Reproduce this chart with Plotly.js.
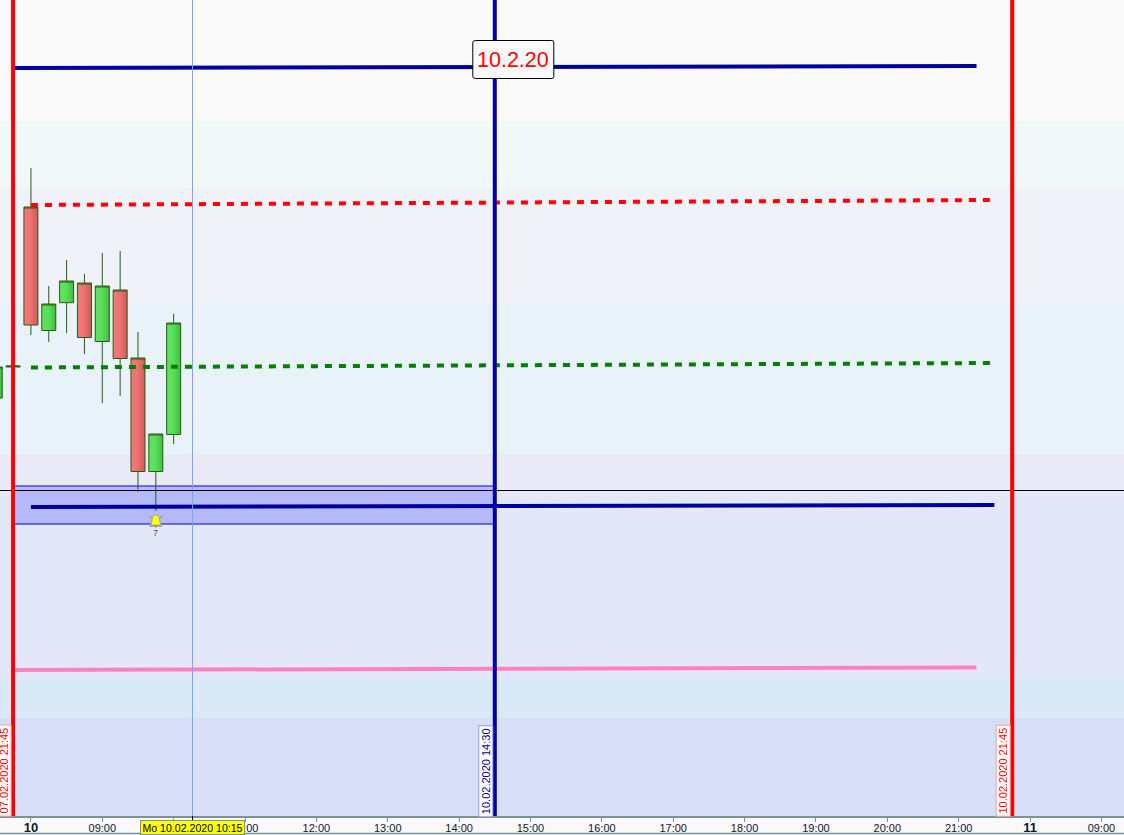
<!DOCTYPE html>
<html>
<head>
<meta charset="utf-8">
<script src="https://cdn.plot.ly/plotly-3.0.1.min.js"></script>
<style>html,body{margin:0;padding:0;background:#f9f9f9;overflow:hidden}#chart{width:1124px;height:835px}</style>
</head>
<body>
<div id="chart"></div>
<script>
// Price scale has no visible labels in the reference: values are height above the time axis.
const candleTimes = ['2020-02-07 21:30','2020-02-07 21:45','2020-02-10 08:00','2020-02-10 08:15','2020-02-10 08:30','2020-02-10 08:45','2020-02-10 09:00','2020-02-10 09:15','2020-02-10 09:30','2020-02-10 09:45','2020-02-10 10:00'];
const candleOpen  = [418,449,609,485.5,513.3,533,474.5,526,458,344.5,381.5];
const candleHigh  = [449.5,450.5,648,530,556,542,563,565,484,382,502];
const candleLow   = [418,448,481,474,483,462,413,420,324,305,372];
const candleClose = [449,450,491,512,535,478.5,530,457.5,344.5,382,493];

const bandTops    = [816,695,628,512,362,326,138,98];
const bandBottoms = [695,628,512,362,326,138,98,0];
const bandColors  = ['#f9f9f9','#f0f9f7','#f0f2fa','#e9f1f9','#e9e9f7','#e2e8f7','#d9e9f7','#d7dff7'];

const levelStart = '2020-02-07 21:46', levelStartB = '2020-02-10 08:00';
const topLevel = {x:[levelStart,'2020-02-10 21:15'], y:[748,750]};
const redLevel = {x:[levelStartB,'2020-02-10 21:28'], y:[611,616]};
const greenLevel = {x:[levelStartB,'2020-02-10 21:28'], y:[448.5,453]};
const navyLevel = {x:[levelStartB,'2020-02-10 21:30'], y:[309,311]};
const pinkLevel = {x:[levelStart,'2020-02-10 21:15'], y:[146,148.5]};

const axisTicks = ['2020-02-10 08:00','2020-02-10 09:00','2020-02-10 10:00','2020-02-10 11:00','2020-02-10 12:00','2020-02-10 13:00','2020-02-10 14:00','2020-02-10 15:00','2020-02-10 16:00','2020-02-10 17:00','2020-02-10 18:00','2020-02-10 19:00','2020-02-10 20:00','2020-02-10 21:00','2020-02-11 08:00','2020-02-11 09:00'];
const dayLabel = d => '<span style="font-size:13px"><b>'+d+'</b></span>';
const axisLabels = [dayLabel('10'),'09:00','10:00','11:00','12:00','13:00','14:00','15:00','16:00','17:00','18:00','19:00','20:00','21:00',dayLabel('11'),'09:00'];

const sessionLeft = '2020-02-07 21:45', sessionRight = '2020-02-10 21:45', markerTime = '2020-02-10 14:30', cursorTime = '2020-02-10 10:15:50', alertTime = '2020-02-10 09:45';
const zoneTop = 330, zoneBottom = 292, crossY = 325.5, alertY = 295;
const FONT = '"Liberation Sans", Arial, sans-serif';
const BOX_MS = 14/71.4*3600000;   // candle body width

const lineTrace = (d, color, dash) => ({type:'scatter',mode:'lines',x:d.x,y:d.y,hoverinfo:'skip',showlegend:false,line:{color,width:4,dash:dash||'solid'}});

const candleTrace = (up, fill) => {
  const idx = candleOpen.map((o,i)=>i).filter(i => (candleClose[i] >= candleOpen[i]) === up);
  const pick = a => idx.map(i=>a[i]);
  const lo = idx.map(i=>Math.min(candleOpen[i],candleClose[i]));
  const hi = idx.map(i=>Math.max(candleOpen[i],candleClose[i]));
  return {type:'box',x:pick(candleTimes),q1:lo,median:hi,q3:hi,lowerfence:pick(candleLow),upperfence:pick(candleHigh),
    width:BOX_MS,whiskerwidth:0,boxpoints:false,showlegend:false,hoverinfo:'skip',
    fillcolor:fill,line:{color:'#2a5a14',width:1}};
};

const vline = (x,color,width) => ({type:'line',xref:'x',yref:'paper',x0:x,x1:x,y0:0,y1:1,line:{color,width}});

const shapes = bandColors.map((c,i)=>({type:'rect',layer:'below',xref:'paper',yref:'y',x0:0,x1:1,y0:bandBottoms[i],y1:bandTops[i],fillcolor:c,line:{width:0}}));
shapes.push({type:'rect',layer:'below',xref:'x',yref:'y',x0:sessionLeft,x1:markerTime,y0:zoneBottom,y1:zoneTop,fillcolor:'rgba(60,60,255,0.27)',line:{color:'#0000ff',width:1}});
shapes.push(vline(cursorTime,'#80a0ff',1));
shapes.push({type:'line',xref:'x',yref:'paper',x0:cursorTime,x1:cursorTime,y0:-4/816,y1:0,line:{color:'#000000',width:1}});
shapes.push({type:'line',xref:'paper',yref:'y',x0:0,x1:1,y0:crossY,y1:crossY,line:{color:'#000000',width:1}});
shapes.push(vline(sessionLeft,'#ff0000',4));
shapes.push(vline(sessionRight,'#ff0000',4));
shapes.push(vline(markerTime,'#0000a0',4));
shapes.push({type:'line',xref:'paper',yref:'paper',x0:0,x1:1,y0:-17.5/816,y1:-17.5/816,line:{color:'#7c9296',width:1.5}});
// rounded label box, sized in pixels around its anchor
shapes.push({type:'path',xref:'x',yref:'y',xsizemode:'pixel',ysizemode:'pixel',xanchor:markerTime,yanchor:756.5,
  path:'M -19 -19 L 57 -19 Q 59 -19 59 -17 L 59 17 Q 59 19 57 19 L -19 19 Q -22 19 -22 17 L -22 -17 Q -22 -19 -19 -19 Z',
  fillcolor:'#f9f9f9',line:{color:'#000000',width:1}});
// alert bell glyph
shapes.push({type:'path',xref:'x',yref:'y',xsizemode:'pixel',ysizemode:'pixel',xanchor:alertTime,yanchor:alertY,
  path:'M -1 6 L 1 6 C 3 5 4 3 4 0 C 4 -2 5 -3 6 -4 L -6 -4 C -5 -3 -4 -2 -4 0 C -4 3 -3 5 -1 6 Z',
  fillcolor:'#ffff20',line:{color:'#a8a850',width:1}});
shapes.push({type:'path',xref:'x',yref:'y',xsizemode:'pixel',ysizemode:'pixel',xanchor:alertTime,yanchor:alertY,
  path:'M -6.5 -5 L 6.5 -5 M 0 -5 L 0 -6.5 M -6 5 L -5 3 M 6 5 L 5 3',
  line:{color:'#77776a',width:1}});

const vlabel = (x,text,color,border,shift) => ({xref:'x',yref:'y',x,y:45,text,textangle:-90,xanchor:'right',yanchor:'middle',showarrow:false,
  xshift:shift,font:{family:FONT,size:11,color},bgcolor:'#ffffff',bordercolor:border,borderwidth:1,borderpad:0,width:90,height:13,align:'center'});

const annotations = [
  vlabel(sessionLeft,'07.02.2020 21:45','#ff0000','#f4a0a0',-2),
  vlabel(markerTime,'10.02.2020 14:30','#0000a0','#9a9ad0',-2),
  vlabel(sessionRight,'10.02.2020 21:45','#ff0000','#f4a0a0',-2),
  {xref:'x',yref:'y',x:markerTime,y:756.5,xshift:18.5,text:'10.2.20',showarrow:false,font:{family:FONT,size:21.5,color:'#ff0000'}},
  {xref:'x',yref:'y',x:alertTime,y:alertY-12,text:'7',showarrow:false,font:{family:FONT,size:9,color:'#555577'}},
  {xref:'x',yref:'paper',x:cursorTime,xshift:0.5,y:-11/816,yanchor:'middle',text:'Mo 10.02.2020 10:15',showarrow:false,font:{family:FONT,size:10.6,color:'#000000'},bgcolor:'#ffff00',bordercolor:'#7c9296',borderwidth:1,borderpad:0,width:103,height:13}
];

const layout = {
  width:1124,height:835,margin:{l:0,r:0,t:0,b:19,pad:0},
  paper_bgcolor:'#f9f9f9',plot_bgcolor:'#f9f9f9',showlegend:false,dragmode:false,boxmode:'overlay',
  font:{family:FONT},
  xaxis:{type:'date',range:['2020-02-07 21:34','2020-02-11 09:19'],
    rangebreaks:[{bounds:['sat','mon']},{pattern:'hour',bounds:[22,8]}],
    tickmode:'array',tickvals:axisTicks,ticktext:axisLabels,
    ticks:'outside',ticklen:4,tickwidth:1,tickcolor:'#7c9296',showgrid:false,zeroline:false,
    showline:true,linecolor:'#7c9296',linewidth:2,tickangle:0,ticklabelstandoff:-3,tickfont:{family:FONT,size:11,color:'#0a1a2a'}},
  yaxis:{range:[0,816],showticklabels:false,ticks:'',showgrid:false,zeroline:false,showline:false,fixedrange:true},
  shapes,annotations
};

Plotly.newPlot('chart',[
  candleTrace(true,'#58dc58'),
  candleTrace(false,'#e96c6c'),
  lineTrace(topLevel,'#0000a0'),
  lineTrace(redLevel,'#ff0000','7px,7px'),
  lineTrace(greenLevel,'#008000','7px,7px'),
  lineTrace(navyLevel,'#0000a0'),
  lineTrace(pinkLevel,'#ff80c0')
],layout,{staticPlot:true,displayModeBar:false}).then(gd=>{
  // soft left-to-right shading of the candle bodies
  const NS='http://www.w3.org/2000/svg', svg=gd.querySelector('svg.main-svg'), defs=svg.querySelector('defs');
  const grad=(id,a,b,c)=>{const g=document.createElementNS(NS,'linearGradient');g.setAttribute('id',id);
    [[0,a],[0.45,b],[1,c]].forEach(([o,col])=>{const s=document.createElementNS(NS,'stop');s.setAttribute('offset',o);s.setAttribute('stop-color',col);g.appendChild(s);});defs.appendChild(g);};
  grad('candleUp','#5be65b','#5cdf5c','#3cbf3c');
  grad('candleDown','#f07a7a','#ee7272','#d05a5a');
  gd.querySelectorAll('.trace.boxes').forEach((t,i)=>t.querySelectorAll('path.box').forEach(p=>{p.style.fill=i===0?'url(#candleUp)':'url(#candleDown)';p.style.fillOpacity=1;}));
});
</script>
</body>
</html>
